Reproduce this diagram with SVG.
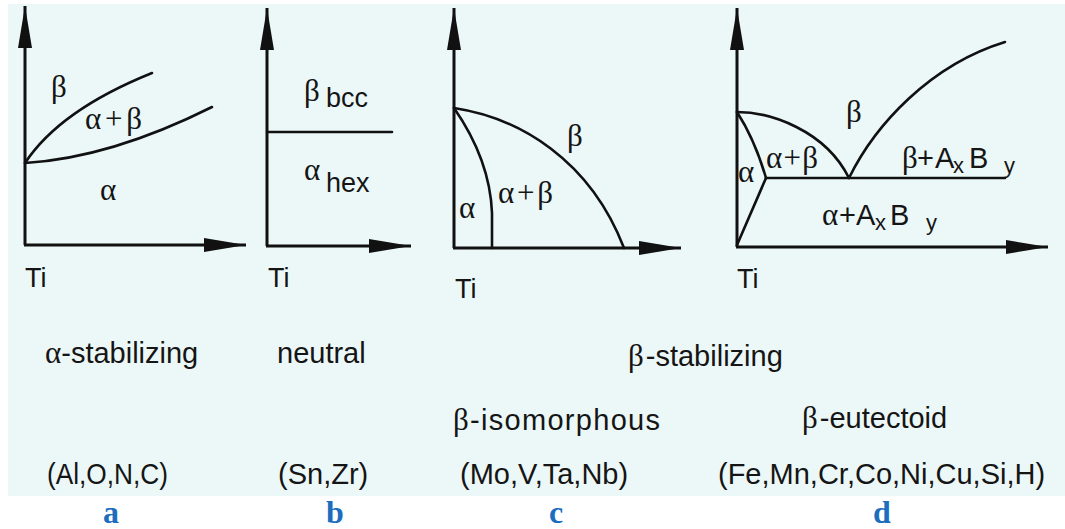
<svg xmlns="http://www.w3.org/2000/svg" width="1065" height="529" viewBox="0 0 1065 529">
<defs>
<style>
.ax{fill:none;stroke:#111;stroke-width:3;marker-end:url(#ah)}
.cv{fill:none;stroke:#111;stroke-width:2.6;stroke-linecap:round}
.s{font-family:"Liberation Sans",Arial,sans-serif;font-size:29px;fill:#151515}
.ti{font-family:"Liberation Sans",Arial,sans-serif;font-size:27px;fill:#151515}
.g{font-family:"Liberation Serif","Times New Roman",serif;font-size:31px;fill:#151515}
.sub{font-family:"Liberation Sans",Arial,sans-serif;font-size:22px;fill:#151515}
.tag{font-family:"Liberation Serif","Times New Roman",serif;font-weight:bold;font-size:32px;fill:#1c6dbd}
</style>
<marker id="ah" viewBox="0 -8 44 16" refX="42" refY="0" markerWidth="44" markerHeight="16" markerUnits="userSpaceOnUse" orient="auto">
<path d="M0,-7 L42,0 L0,7 Z" fill="#111"/>
</marker>
</defs>
<rect x="8" y="4" width="1057" height="492" fill="#ecf8f8"/>

<g id="panel-a">
<path class="ax" d="M25,245 L25,6"/>
<path class="ax" d="M24,245 L246,245"/>
<path class="cv" d="M25,163 Q60,110 152,73"/>
<path class="cv" d="M25,163 Q110,158 212,107"/>
<text class="g" x="51" y="97">β</text>
<text class="g" x="85" y="129" textLength="57" lengthAdjust="spacing">α+β</text>
<text class="g" x="100" y="200">α</text>
<text class="ti" x="25" y="287">Ti</text>
</g>

<g id="panel-b">
<path class="ax" d="M267,246 L267,8"/>
<path class="ax" d="M266,246 L411,246"/>
<path class="cv" d="M267,132 L392,132"/>
<text class="g" x="304" y="101">β</text>
<text class="ti" x="326" y="107">bcc</text>
<text class="g" x="304" y="180">α</text>
<text class="ti" x="326" y="192">hex</text>
<text class="ti" x="268" y="287">Ti</text>
</g>

<g id="panel-c">
<path class="ax" d="M454,248 L454,8"/>
<path class="ax" d="M453,248 L681,248"/>
<path class="cv" d="M454,108 C520,118 590,160 624,248"/>
<path class="cv" d="M454,108 Q490,160 492,213 L492,248"/>
<text class="g" x="567" y="146">β</text>
<text class="g" x="498" y="203" textLength="55" lengthAdjust="spacing">α+β</text>
<text class="g" x="459" y="218">α</text>
<text class="ti" x="455" y="298">Ti</text>
</g>

<g id="panel-d">
<path class="ax" d="M737,247 L737,8"/>
<path class="ax" d="M736,247 L1048,247"/>
<path class="cv" d="M737,112 C770,112 825,130 849,178"/>
<path class="cv" d="M737,112 Q755,140 766,178"/>
<path class="cv" d="M766,178 L737,245"/>
<path class="cv" d="M766,178 L1005,178"/>
<path class="cv" d="M849,178 C875,125 930,65 1005,42"/>
<text class="g" x="846" y="122">β</text>
<text class="g" x="738" y="182">α</text>
<text class="g" x="766" y="168" textLength="52" lengthAdjust="spacing">α+β</text>
<text class="g" x="902" y="168">β</text>
<text class="s" x="917" y="168">+</text>
<text class="s" x="935" y="168">A</text>
<text class="sub" x="953" y="173">x</text>
<text class="s" x="969" y="168">B</text>
<text class="sub" x="1004" y="173">y</text>
<text class="g" x="822" y="225">α</text>
<text class="s" x="839" y="225">+</text>
<text class="s" x="856" y="225">A</text>
<text class="sub" x="875" y="230">x</text>
<text class="s" x="890" y="225">B</text>
<text class="sub" x="926" y="230">y</text>
<text class="ti" x="737" y="288">Ti</text>
</g>

<g id="captions">
<text class="s" x="45" y="363"><tspan class="g">α</tspan>-stabilizing</text>
<text class="s" x="277" y="363">neutral</text>
<text class="s" x="628" y="366"><tspan class="g">β</tspan><tspan dx="2">-stabilizing</tspan></text>
<text class="s" x="453" y="430" textLength="207" lengthAdjust="spacing"><tspan class="g">β</tspan>-isomorphous</text>
<text class="s" x="802" y="428"><tspan class="g">β</tspan><tspan dx="2">-eutectoid</tspan></text>
<text class="s" x="47" y="484" textLength="121" lengthAdjust="spacingAndGlyphs">(Al,O,N,C)</text>
<text class="s" x="278" y="484">(Sn,Zr)</text>
<text class="s" x="460" y="484">(Mo,V,Ta,Nb)</text>
<text class="s" x="718" y="484">(Fe,Mn,Cr,Co,Ni,Cu,Si,H)</text>
</g>

<g id="tags">
<text class="tag" x="103" y="523">a</text>
<text class="tag" x="326" y="523">b</text>
<text class="tag" x="549" y="523">c</text>
<text class="tag" x="873" y="523">d</text>
</g>
</svg>
